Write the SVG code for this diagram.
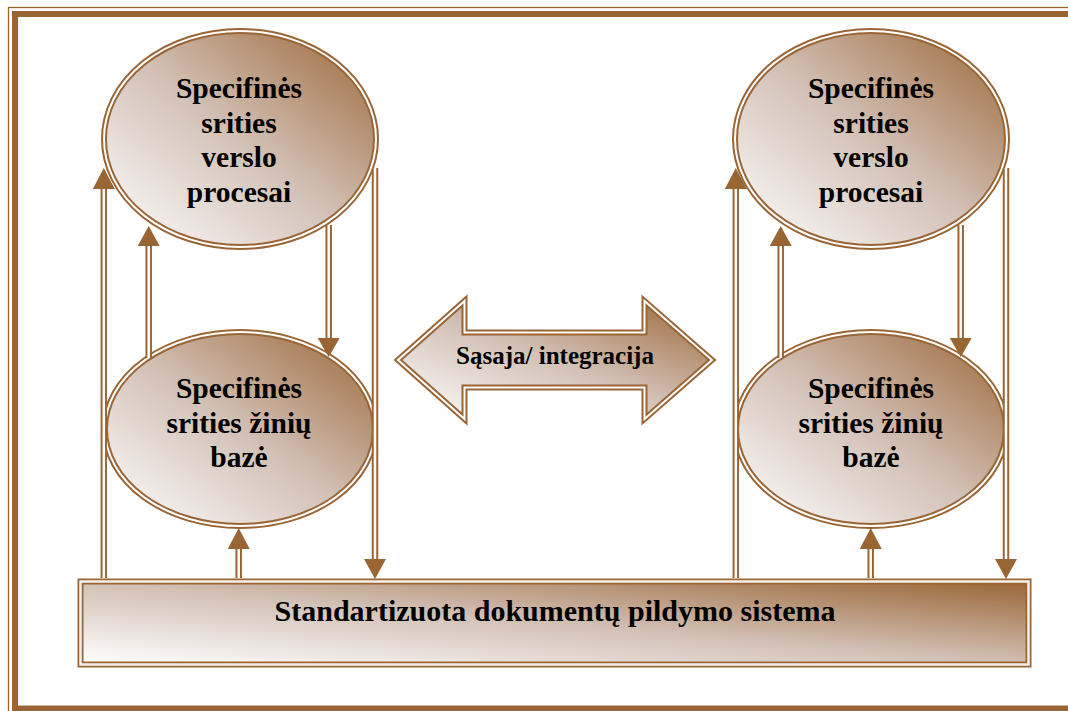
<svg xmlns="http://www.w3.org/2000/svg" width="1068" height="711" viewBox="0 0 1068 711">
  <defs>
    <!-- shaded fill: pale at lower-left, brown at upper-right -->
    <linearGradient id="shade" x1="0" y1="1" x2="1" y2="0">
      <stop offset="0" stop-color="#ffffff"/>
      <stop offset="0.5" stop-color="#d2c0b5"/>
      <stop offset="1" stop-color="#9a6535"/>
    </linearGradient>
    <style>
      .frame { fill: none; stroke: #9a6535; }
      .node { fill: url(#shade); stroke: #9a6535; stroke-width: 6; }
      .gap { fill: none; stroke: #ffffff; stroke-width: 2; }
      .boxgap { fill: none; stroke: #f6f0ec; stroke-width: 2.5; }
      .wire { fill: none; stroke: #9a6535; stroke-width: 6.5; stroke-linecap: butt; }
      .wiregap { fill: none; stroke: #ffffff; stroke-width: 2.5; stroke-linecap: butt; }
      .head { fill: #9a6535; stroke: none; }
      .label { font-family: "Liberation Serif", "Times New Roman", serif; font-weight: bold; fill: #000000; text-anchor: middle; }
    </style>
  </defs>

  <rect width="1068" height="711" fill="#ffffff"/>

  <!-- page border: thin outer rule and heavy inner rule -->
  <g id="border">
    <rect class="frame" x="8.5" y="7.5" width="1075" height="715" stroke-width="1.3"/>
    <rect class="frame" x="15" y="14" width="1062" height="694.5" stroke-width="6"/>
  </g>

  <!-- left column -->
  <g id="left-processes">
    <ellipse class="node" cx="240" cy="139" rx="136" ry="108"/>
    <ellipse class="gap" cx="240" cy="139" rx="136" ry="108"/>
    <text class="label" font-size="29.5" x="239" y="98">Specifinės</text>
    <text class="label" font-size="29.5" x="239" y="133">srities</text>
    <text class="label" font-size="29.5" x="239" y="167">verslo</text>
    <text class="label" font-size="29.5" x="239" y="202">procesai</text>
  </g>

  <g id="left-knowledge">
    <ellipse class="node" cx="240" cy="429" rx="135" ry="97"/>
    <ellipse class="gap" cx="240" cy="429" rx="135" ry="97"/>
    <text class="label" font-size="29.5" x="239" y="398">Specifinės</text>
    <text class="label" font-size="29.5" x="239" y="433">srities žinių</text>
    <text class="label" font-size="29.5" x="239" y="467">bazė</text>
  </g>

  <!-- right column -->
  <g id="right-processes">
    <ellipse class="node" cx="871" cy="139" rx="136" ry="108"/>
    <ellipse class="gap" cx="871" cy="139" rx="136" ry="108"/>
    <text class="label" font-size="29.5" x="871" y="98">Specifinės</text>
    <text class="label" font-size="29.5" x="871" y="133">srities</text>
    <text class="label" font-size="29.5" x="871" y="167">verslo</text>
    <text class="label" font-size="29.5" x="871" y="202">procesai</text>
  </g>

  <g id="right-knowledge">
    <ellipse class="node" cx="871" cy="429" rx="135" ry="97"/>
    <ellipse class="gap" cx="871" cy="429" rx="135" ry="97"/>
    <text class="label" font-size="29.5" x="871" y="398">Specifinės</text>
    <text class="label" font-size="29.5" x="871" y="433">srities žinių</text>
    <text class="label" font-size="29.5" x="871" y="467">bazė</text>
  </g>

  <!-- two-way interface arrow -->
  <g id="integration">
    <polygon class="node" points="398,360 464.5,301 464.5,332.5 644.5,332.5 644.5,301 712,360 644.5,419 644.5,387.5 464.5,387.5 464.5,419"/>
    <polygon class="gap" points="398,360 464.5,301 464.5,332.5 644.5,332.5 644.5,301 712,360 644.5,419 644.5,387.5 464.5,387.5 464.5,419"/>
    <text class="label" font-size="25" x="555" y="364">Sąsaja/ integracija</text>
  </g>

  <!-- shared document system -->
  <g id="document-system">
    <rect class="node" x="80.5" y="581.5" width="948" height="83" stroke-width="7"/>
    <rect class="boxgap" x="80.5" y="581.5" width="948" height="83"/>
    <text class="label" font-size="30" x="555" y="621">Standartizuota dokumentų pildymo sistema</text>
  </g>

  <!-- double-line connectors -->
  <g id="connectors">
    <path class="wire" d="M103.8,578 V188 M148.7,358 V245 M328.7,225 V339 M375,168 V560 M238.7,578 V548 M735.8,578 V188 M780.7,358 V245 M960.7,225 V339 M1006,168 V560 M870.7,578 V548"/>
    <path class="wiregap" d="M103.8,578 V188 M148.7,358 V245 M328.7,225 V339 M375,168 V560 M238.7,578 V548 M735.8,578 V188 M780.7,358 V245 M960.7,225 V339 M1006,168 V560 M870.7,578 V548"/>
    <!-- left column heads -->
    <polygon class="head" points="103.8,168 114.8,189 92.8,189"/>
    <polygon class="head" points="148.7,226 159.7,246 137.7,246"/>
    <polygon class="head" points="328.7,357 339.7,338 317.7,338"/>
    <polygon class="head" points="375,579 386,559 364,559"/>
    <polygon class="head" points="238.7,528 249.7,549 227.7,549"/>
    <!-- right column heads -->
    <polygon class="head" points="735.8,168 746.8,189 724.8,189"/>
    <polygon class="head" points="780.7,226 791.7,246 769.7,246"/>
    <polygon class="head" points="960.7,357 971.7,338 949.7,338"/>
    <polygon class="head" points="1006,579 1017,559 995,559"/>
    <polygon class="head" points="870.7,528 881.7,549 859.7,549"/>
  </g>
</svg>
